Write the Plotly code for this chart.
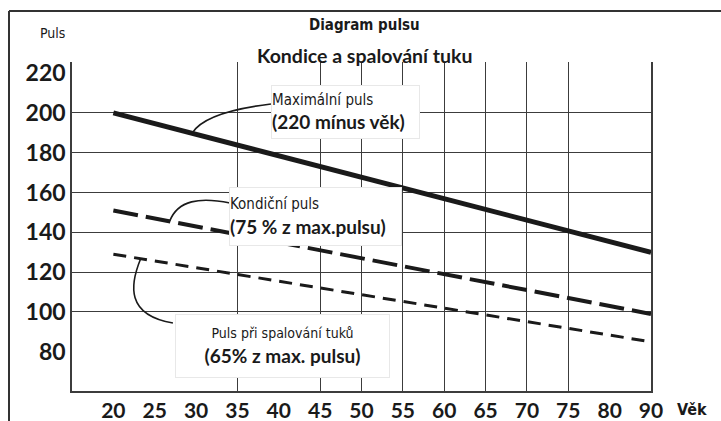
import plotly.graph_objects as go

# Age scale as printed on the chart (the scale goes 80 -> 90)
age_labels = ["20", "25", "30", "35", "40", "45", "50", "55", "60", "65", "70", "75", "80", "90"]
pulse_ticks = [80, 100, 120, 140, 160, 180, 200, 220]
pulse_grid = [100, 120, 140, 160, 180, 200]
age_grid = ["35", "45", "50", "55", "60", "65", "70", "75"]

# Pulse curves, from age 20 to age 90
line_ages = ["20", "90"]
max_pulse = [200, 130]
condition_pulse = [151, 99]
fatburn_pulse = [129, 85]

W, H = 721, 421
L, R, T, B = 72, 70, 62, 30
X_RANGE = [-1, len(age_labels) - 1]
Y_RANGE = [60.3, 225.6]

INK = "#1a1a1a"
GRID = "#3c3c3c"
NARROW = "DejaVu Sans Condensed, Liberation Sans Narrow, sans-serif"
ROUND = "Lato, Open Sans, sans-serif"


def age_pos(label):
    return age_labels.index(label)


def on_line(values, pos):
    x0, x1 = age_pos(line_ages[0]), age_pos(line_ages[-1])
    return values[0] + (values[1] - values[0]) * (pos - x0) / (x1 - x0)


def paper_x(px):
    return (px - L) / (W - L - R)


def paper_y(py):
    return (H - B - py) / (H - T - B)


fig = go.Figure()
fig.add_trace(go.Scatter(x=line_ages, y=max_pulse, mode="lines",
                         line=dict(color=INK, width=5), hoverinfo="skip"))
fig.add_trace(go.Scatter(x=line_ages, y=condition_pulse, mode="lines",
                         line=dict(color=INK, width=4, dash="25px,8px"), hoverinfo="skip"))
fig.add_trace(go.Scatter(x=line_ages, y=fatburn_pulse, mode="lines",
                         line=dict(color=INK, width=3, dash="13px,8px"), hoverinfo="skip"))
# carrier for the grid axes
fig.add_trace(go.Scatter(x=[], y=[], xaxis="x2", yaxis="y2", hoverinfo="skip"))

# curved leaders from the labels to the curves
p = 1.9
lead_max = f"M {p},{on_line(max_pulse, p)} Q 2.21,200.5 3.81,204.5"
p = 1.36
lead_cond = f"M {p},{on_line(condition_pulse, p)} C 1.56,156.3 2.09,157.8 2.82,154.8"
p = 0.66
lead_fat = f"M {p},{on_line(fatburn_pulse, p)} C 0.40,113.6 0.30,98.5 1.44,94.5"

shapes = []
for path in (lead_max, lead_cond, lead_fat):
    shapes.append(dict(type="path", path=path, xref="x2", yref="y",
                       line=dict(color=INK, width=1.6)))

# outer frame (top and left edges)
frame = dict(color="#333333", width=2)
shapes.append(dict(type="line", xref="paper", yref="paper",
                   x0=paper_x(9), x1=paper_x(W + 5), y0=paper_y(11), y1=paper_y(11), line=frame))
shapes.append(dict(type="line", xref="paper", yref="paper",
                   x0=paper_x(9), x1=paper_x(9), y0=paper_y(11), y1=paper_y(H + 5), line=frame))

box = dict(xref="x2", yref="y", xanchor="left", yanchor="top", showarrow=False,
           bgcolor="white", bordercolor="#e8e8e8", borderwidth=1, borderpad=0,
           align="left", valign="middle", font=dict(family=ROUND, size=19, color=INK))


def two_lines(first, second, first_size):
    return (f'<span style="font-family:{NARROW};font-size:{first_size}px">{first}</span>'
            f'<br><b>{second}</b>')


def label(px, py, text, family, size):
    return dict(xref="paper", yref="paper", x=paper_x(px), y=paper_y(py),
                xanchor="center", yanchor="middle", showarrow=False,
                text=text, font=dict(family=family, size=size, color=INK))


annotations = [
    dict(box, x=3.8, y=214, width=147, height=52,
         text=two_lines("Maximální puls", "(220 mínus věk)", 15)),
    dict(box, x=2.8, y=163, width=171, height=57,
         text=two_lines("Kondiční puls", "(75 % z max.pulsu)", 15)),
    dict(box, x=1.48, y=99.2, width=213, height=62, align="center",
         text=two_lines("Puls při spalování tuků", "(65% z max. pulsu)", 14)),
    label(364, 25, "<b>Diagram pulsu</b>", NARROW, 15),
    label(364, 55, "<b>Kondice a spalování tuku</b>", ROUND, 19.5),
    label(52, 33, "Puls", NARROW, 14),
    label(692, 409, "<b>Věk</b>", NARROW, 16),
]

fig.update_layout(
    width=W, height=H,
    margin=dict(l=L, r=R, t=T, b=B, pad=0),
    paper_bgcolor="white", plot_bgcolor="white",
    showlegend=False,
    shapes=shapes,
    annotations=annotations,
    xaxis=dict(type="category", categoryorder="array", categoryarray=age_labels,
               tickvals=age_labels, range=X_RANGE, showgrid=False, zeroline=False,
               showline=True, linecolor=GRID, linewidth=1.5, ticks="",
               ticklabelstandoff=0, automargin=False,
               tickfont=dict(family=ROUND, size=21, color=INK, weight=700)),
    yaxis=dict(range=Y_RANGE, tickvals=pulse_ticks, showgrid=False, zeroline=False,
               showline=True, mirror=True, linecolor=GRID, linewidth=1.5, ticks="",
               ticklabelstandoff=0, automargin=False,
               tickfont=dict(family=ROUND, size=23, color=INK, weight=700)),
    xaxis2=dict(overlaying="x", anchor="y2", range=X_RANGE,
                tickvals=[age_pos(a) for a in age_grid], showgrid=True,
                gridcolor=GRID, gridwidth=1.2, showticklabels=False,
                showline=False, zeroline=False, ticks="", automargin=False),
    yaxis2=dict(overlaying="y", anchor="x2", range=Y_RANGE, tickvals=pulse_grid,
                showgrid=True, gridcolor=GRID, gridwidth=1.2, showticklabels=False,
                showline=False, zeroline=False, ticks="", automargin=False),
)

fig.write_html("out.html")
